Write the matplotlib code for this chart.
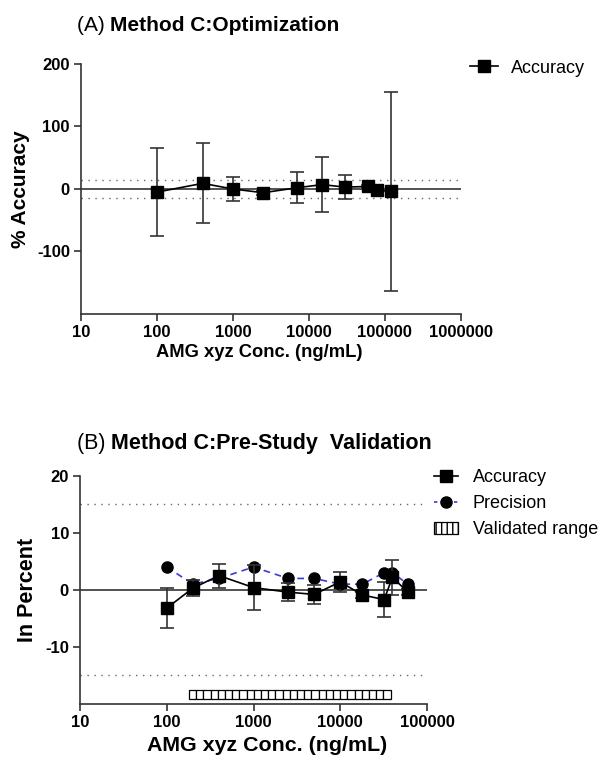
import numpy as np
import matplotlib
matplotlib.use("Agg")
import matplotlib.pyplot as plt
from matplotlib.lines import Line2D
from matplotlib.patches import Patch
from matplotlib.ticker import FixedLocator, FuncFormatter, NullLocator

plt.rcParams['font.family'] = ['Liberation Sans', 'DejaVu Sans']
plt.rcParams['axes.unicode_minus'] = False

# (A) optimization
conc_a = [100, 400, 1000, 2500, 7000, 15000, 30000, 60000, 80000, 120000]
acc_a = [-5, 9, 0, -6, 2, 7, 3, 4, -2, -4]
sd_a = [70, 64, 19, 3, 25, 44, 19, 3, 2, 159]

# (B) pre-study validation
conc_b = [100, 200, 400, 1000, 2500, 5000, 10000, 18000, 32000, 40000, 60000]
acc_b = [-3.2, 0.3, 2.5, 0.4, -0.4, -0.8, 1.4, -0.9, -1.7, 2.2, -0.4]
sd_b = [3.5, 1.4, 2.1, 4.0, 1.6, 1.6, 1.7, 0.6, 3.0, 3.1, 0.5]
prec_b = [4, 1, 2, 4, 2, 2, 1, 1, 3, 3, 1]
valid_range = (180, 38000)
n_cells = 28
limit = 15

fig = plt.figure(figsize=(6.01, 7.57), dpi=100)
ax1 = fig.add_axes([0.1348, 0.5852, 0.6318, 0.3303])
ax2 = fig.add_axes([0.1331, 0.0700, 0.5774, 0.3016])

plain = FuncFormatter(lambda v, p: f"{v:.0f}")


def style(ax, fs):
    ax.set_xscale('log')
    for s in ['top', 'right']:
        ax.spines[s].set_visible(False)
    for s in ['left', 'bottom']:
        ax.spines[s].set_linewidth(1.2)
        ax.spines[s].set_color('#333333')
    ax.tick_params(direction='out', length=5, width=1.2, color='#333333',
                   labelsize=fs, pad=3)
    ax.xaxis.set_minor_locator(NullLocator())
    ax.xaxis.set_major_formatter(plain)
    ax.yaxis.set_major_formatter(plain)
    for lab in ax.get_xticklabels() + ax.get_yticklabels():
        lab.set_fontweight('bold')


# ---- panel A
ax1.set_xlim(10, 1e6)
ax1.set_ylim(-200, 200)
ax1.xaxis.set_major_locator(FixedLocator([10, 100, 1000, 1e4, 1e5, 1e6]))
ax1.set_yticks([-100, 0, 100, 200])
ax1.axhline(0, color='#333333', lw=1.2)
for h in (limit, -limit):
    ax1.axhline(h, color='#666666', lw=1, ls=(0, (1, 4)))
ax1.errorbar(conc_a, acc_a, yerr=sd_a, color='black', ecolor='#333333',
             marker='s', ms=8, lw=1.2, elinewidth=1.2, capsize=5, capthick=1.2)
style(ax1, 12)
ax1.set_ylabel('% Accuracy', fontsize=15, fontweight='bold', labelpad=5)
ax1.set_xlabel('AMG xyz Conc. (ng/mL)', fontsize=13.2, fontweight='bold')
ax1.xaxis.set_label_coords(0.47, -0.118)

t1 = fig.text(0.128, 0.959, '(A) ', fontsize=15)
ax1.annotate('Method C:Optimization', xy=(1, 0), xycoords=t1, fontsize=15,
             fontweight='bold', va='bottom', ha='left', annotation_clip=False)

fig.legend(handles=[Line2D([], [], color='black', marker='s', ms=8, lw=1.2)],
           labels=['Accuracy'], loc='upper left', bbox_to_anchor=(0.782, 0.921),
           frameon=False, fontsize=13, handlelength=1.55, handletextpad=0.72,
           borderaxespad=0, borderpad=0)

# ---- panel B
ax2.set_xlim(10, 1e5)
ax2.set_ylim(-20, 20)
ax2.xaxis.set_major_locator(FixedLocator([10, 100, 1000, 1e4, 1e5]))
ax2.set_yticks([-10, 0, 10, 20])
ax2.axhline(0, color='#333333', lw=1.2)
for h in (limit, -limit):
    ax2.axhline(h, color='#666666', lw=1, ls=(0, (1, 4)))
ax2.plot(conc_b, prec_b, color='#3a3ad6', ls='--', lw=1.2, dashes=(4, 3),
         marker='o', ms=8, mfc='black', mec='black', zorder=3)
ax2.errorbar(conc_b, acc_b, yerr=sd_b, color='black', ecolor='#333333',
             marker='s', ms=8, lw=1.2, elinewidth=1.2, capsize=5, capthick=1.2,
             zorder=4)
edges = np.geomspace(valid_range[0], valid_range[1], n_cells + 1)
ax2.barh(-18.4, np.diff(edges), left=edges[:-1], height=1.6, color='white',
         edgecolor='black', lw=0.9)
style(ax2, 12)
ax2.set_ylabel('In Percent', fontsize=15.5, fontweight='bold', labelpad=5)
ax2.set_xlabel('AMG xyz Conc. (ng/mL)', fontsize=15.4, fontweight='bold')
ax2.xaxis.set_label_coords(0.539, -0.138)

t2 = fig.text(0.128, 0.407, '(B) ', fontsize=15.5)
ax2.annotate('Method C:Pre-Study  Validation', xy=(1, 0), xycoords=t2, fontsize=15.5,
             fontweight='bold', va='bottom', ha='left', annotation_clip=False)

handles_b = [
    Line2D([], [], color='black', marker='s', ms=8, lw=1.2),
    Line2D([], [], color='#3a3ad6', ls='--', dashes=(2, 2), lw=1.2, marker='o',
           ms=8, mfc='black', mec='black'),
    Patch(facecolor='white', edgecolor='black', hatch='|||', lw=0.9),
]
fig.legend(handles=handles_b, labels=['Accuracy', 'Precision', 'Validated range'],
           loc='upper left', bbox_to_anchor=(0.722, 0.380), frameon=False,
           fontsize=13, handlelength=1.35, handletextpad=0.8, labelspacing=0.5,
           borderaxespad=0, borderpad=0)

fig.savefig('out.png', dpi=100)
